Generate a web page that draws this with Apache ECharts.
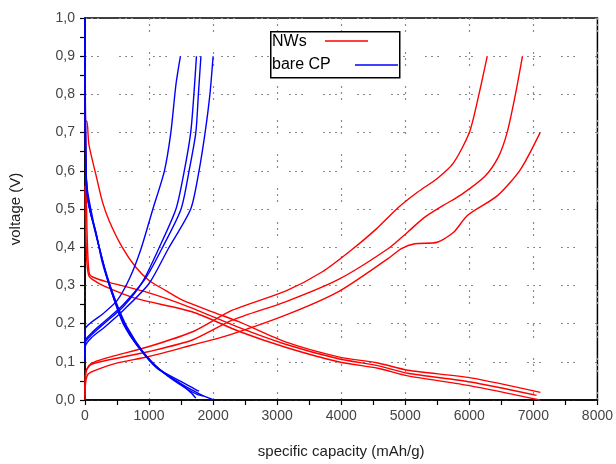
<!DOCTYPE html>
<html>
<head>
<meta charset="utf-8">
<script src="https://cdn.jsdelivr.net/npm/echarts@6/dist/echarts.min.js"></script>
<style>html,body{margin:0;padding:0;background:#fff}#c{width:616px;height:464px}</style>
</head>
<body>
<div id="c"></div>
<script>
// ---- data: [capacity (mAh/g), voltage (V)] ----
var nwsCharge1 = [[0,0.02],[10,0.07],[60,0.09],[150,0.1],[400,0.113],[1000,0.14],[1700,0.18],[2300,0.235],[3130,0.285],[3700,0.335],[4140,0.39],[4550,0.448],[4900,0.505],[5200,0.545],[5500,0.58],[5750,0.62],[6000,0.7],[6150,0.8],[6280,0.9]];
var nwsCharge2 = [[0,0.01],[15,0.075],[100,0.093],[400,0.106],[1000,0.127],[1675,0.157],[2300,0.209],[3130,0.257],[3950,0.315],[4730,0.396],[5040,0.44],[5300,0.478],[5600,0.51],[5870,0.537],[6240,0.585],[6450,0.635],[6590,0.7],[6720,0.8],[6830,0.9]];
var nwsCharge3 = [[0,0.0],[10,0.045],[50,0.068],[200,0.08],[480,0.096],[1000,0.114],[1675,0.144],[2247,0.17],[3130,0.222],[3950,0.283],[4730,0.37],[4940,0.396],[5150,0.409],[5500,0.413],[5760,0.44],[5970,0.483],[6440,0.535],[6800,0.604],[7105,0.7]];
var nwsDischarge1 = [[0,0.9],[5,0.75],[15,0.6],[30,0.45],[50,0.36],[70,0.33],[120,0.322],[330,0.31],[950,0.283],[1620,0.244],[2400,0.19],[3130,0.146],[3955,0.108],[4570,0.09],[5040,0.07],[6020,0.047],[7050,0.012]];
var nwsDischarge2 = [[0,0.73],[30,0.73],[60,0.67],[170,0.59],[270,0.52],[375,0.47],[580,0.4],[790,0.348],[1000,0.313],[1255,0.287],[1515,0.262],[2000,0.23],[2400,0.205],[3130,0.152],[3955,0.113],[4570,0.097],[5040,0.078],[6020,0.058],[7110,0.02]];
var nwsDischarge3 = [[0,0.56],[10,0.45],[30,0.36],[60,0.325],[120,0.315],[300,0.298],[790,0.266],[1670,0.231],[2400,0.18],[3130,0.138],[3955,0.1],[4570,0.083],[5040,0.063],[6020,0.037],[7100,0.0]];
var cpCharge1 = [[0,0.13],[3,0.185],[275,0.225],[500,0.26],[700,0.32],[875,0.396],[1060,0.5],[1240,0.6],[1340,0.7],[1420,0.826],[1490,0.9]];
var cpCharge2 = [[0,0.11],[5,0.15],[100,0.17],[300,0.2],[600,0.245],[900,0.31],[1150,0.396],[1420,0.5],[1550,0.6],[1650,0.7],[1700,0.8],[1740,0.9]];
var cpCharge3 = [[0,0.12],[5,0.155],[100,0.175],[300,0.205],[600,0.25],[950,0.32],[1200,0.396],[1500,0.5],[1625,0.6],[1730,0.7],[1770,0.8],[1810,0.9]];
var cpCharge4 = [[0,0.1],[5,0.14],[100,0.163],[300,0.19],[600,0.235],[1000,0.305],[1300,0.396],[1650,0.5],[1780,0.6],[1875,0.7],[1950,0.8],[2000,0.9]];
var cpDischarge1 = [[0,1.0],[3,0.85],[8,0.7],[15,0.6],[40,0.53],[100,0.48],[170,0.44],[270,0.36],[440,0.27],[595,0.2],[850,0.135],[1110,0.085],[1470,0.045],[1650,0.02],[1730,0.005]];
var cpDischarge2 = [[0,1.0],[5,0.8],[12,0.64],[30,0.56],[90,0.5],[180,0.43],[300,0.35],[470,0.26],[630,0.195],[880,0.13],[1150,0.082],[1480,0.05],[1700,0.03],[1780,0.023]];
var cpDischarge3 = [[0,0.95],[5,0.75],[15,0.6],[50,0.52],[130,0.46],[220,0.4],[330,0.33],[500,0.25],[660,0.19],[900,0.128],[1180,0.078],[1520,0.04],[1800,0.015],[2010,0.0]];
var cpDischarge4 = [[0,0.9],[5,0.7],[20,0.58],[60,0.51],[150,0.45],[250,0.38],[380,0.3],[540,0.225],[700,0.17],[950,0.115],[1250,0.068],[1560,0.032],[1750,0.015],[1850,0.01]];

var nwsCurves = [nwsCharge1, nwsCharge2, nwsCharge3, nwsDischarge1, nwsDischarge2, nwsDischarge3];
var cpCurves = [cpCharge1, cpCharge2, cpCharge3, cpCharge4, cpDischarge1, cpDischarge2, cpDischarge3, cpDischarge4];

var xLabel = 'specific capacity (mAh/g)';
var yLabel = 'voltage (V)';
var legendNames = ['NWs', 'bare CP'];

var FONT = '"Liberation Sans", Arial, sans-serif';
var gridDash = [2, 4, 2, 4, 2, 20];
var RED = '#ff0000', BLUE = '#0000ff';

function mk(name, color, data) {
  return { name: name, type: 'line', data: data, showSymbol: false, symbol: 'none',
    smooth: 0.25,
    lineStyle: { color: color, width: 1.4 }, itemStyle: { color: color }, animation: false, z: 3 };
}
var series = [];
nwsCurves.forEach(function (d) { series.push(mk(legendNames[0], RED, d)); });
cpCurves.forEach(function (d) { series.push(mk(legendNames[1], BLUE, d)); });

var chart = echarts.init(document.getElementById('c'), null, { renderer: 'canvas' });
chart.setOption({
  animation: false,
  backgroundColor: '#fff',
  grid: { left: 85, right: 16, top: 18, bottom: 62, show: true, borderColor: '#000', borderWidth: 1.5, backgroundColor: 'transparent' },
  graphic: [
    { type: 'rect', left: 270, top: 31, z: 10, shape: { width: 129, height: 46 }, style: { fill: '#fff', stroke: '#000', lineWidth: 1.5 } },
    { type: 'text', left: 272, top: 34, z: 11, style: { text: legendNames[0], fontFamily: FONT, fontSize: 16, fill: '#000' } },
    { type: 'line', z: 11, shape: { x1: 325, y1: 41, x2: 368, y2: 41 }, style: { stroke: RED, lineWidth: 1.5 } },
    { type: 'text', left: 272, top: 57, z: 11, style: { text: legendNames[1], fontFamily: FONT, fontSize: 16, fill: '#000' } },
    { type: 'line', z: 11, shape: { x1: 355, y1: 65, x2: 398, y2: 65 }, style: { stroke: BLUE, lineWidth: 1.5 } }
  ],
  xAxis: {
    type: 'value', min: 0, max: 8000, interval: 1000,
    name: xLabel, nameLocation: 'middle', nameGap: 44,
    nameTextStyle: { fontFamily: FONT, fontSize: 15, color: '#222' },
    axisLine: { show: true, lineStyle: { color: '#000', width: 1.5 } },
    axisTick: { show: true, inside: false, length: 5, lineStyle: { color: '#000', width: 1.2 } },
    minorTick: { show: true, splitNumber: 2, length: 5, lineStyle: { color: '#000', width: 1.2 } },
    axisLabel: { fontFamily: FONT, fontSize: 14, color: '#444', margin: 9,
      formatter: function (v) { return String(v); } },
    splitLine: { show: true, lineStyle: { color: '#8a8a8a', width: 1.2, type: gridDash } }
  },
  yAxis: {
    type: 'value', min: 0, max: 1, interval: 0.1,
    name: yLabel, nameLocation: 'middle', nameGap: 62,
    nameTextStyle: { fontFamily: FONT, fontSize: 15, color: '#222' },
    axisLine: { show: true, lineStyle: { color: '#000', width: 1.5 } },
    axisTick: { show: true, inside: false, length: 5, lineStyle: { color: '#000', width: 1.2 } },
    minorTick: { show: true, splitNumber: 2, length: 5, lineStyle: { color: '#000', width: 1.2 } },
    axisLabel: { fontFamily: FONT, fontSize: 14, color: '#444', margin: 10,
      formatter: function (v) { return v.toFixed(1).replace('.', ','); } },
    splitLine: { show: true, lineStyle: { color: '#8a8a8a', width: 1.2, type: gridDash } }
  },
  series: series
});
</script>
</body>
</html>
